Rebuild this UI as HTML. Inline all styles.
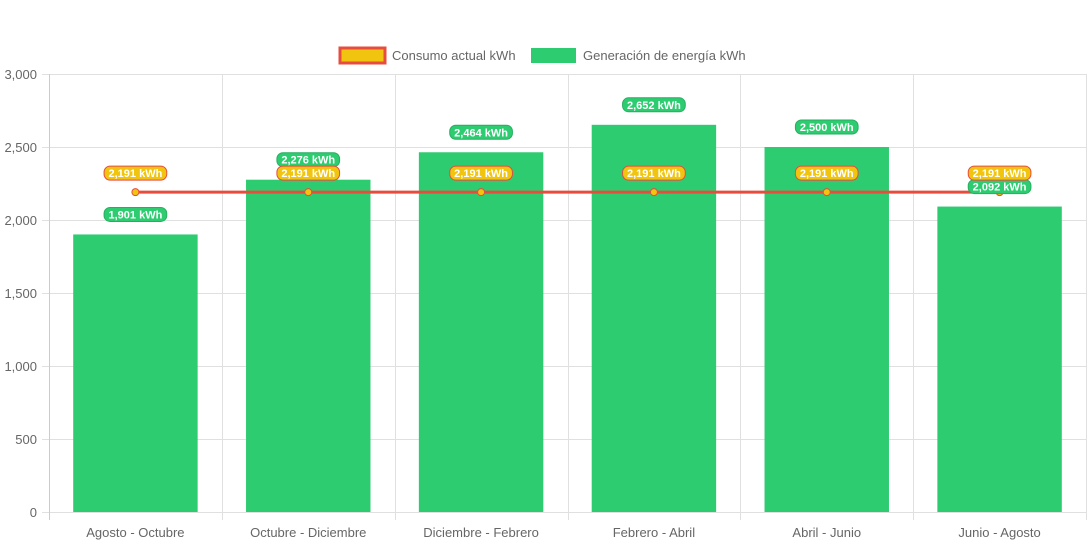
<!DOCTYPE html>
<html><head><meta charset="utf-8"><style>
body{margin:0;background:#fff;}
svg text{font-family:"Liberation Sans",sans-serif;}
</style></head><body>
<svg id="chart" width="1092" height="545">
<g>
 <rect x="340" y="48" width="45" height="15" fill="#f1c40f" stroke="#e74c3c" stroke-width="3"/>
 <text x="392" y="60" font-size="13" fill="#666">Consumo actual kWh</text>
 <rect x="531" y="48" width="45" height="15" fill="#2ecc71"/>
 <text x="583" y="60" font-size="13" fill="#666">Generación de energía kWh</text>
</g>
<g id="grid"></g><g id="bars"></g><g id="line"></g><g id="labels"></g>
</svg>
<script>
const categories=["Agosto - Octubre","Octubre - Diciembre","Diciembre - Febrero","Febrero - Abril","Abril - Junio","Junio - Agosto"];
const generacion=[1901,2276,2464,2652,2500,2092];
const consumo=[2191,2191,2191,2191,2191,2191];
const yTicks=[0,500,1000,1500,2000,2500,3000];
const NS="http://www.w3.org/2000/svg";
const L=49,R=1086,T=74,B=512,yMax=3000;
const cw=(R-L)/categories.length;
const y=v=>B-(v/yMax)*(B-T);
const xc=i=>L+cw*(i+0.5);
function mk(tag,attrs,parent,txt){const e=document.createElementNS(NS,tag);for(const k in attrs)e.setAttribute(k,attrs[k]);if(txt!==undefined)e.textContent=txt;document.getElementById(parent).appendChild(e);return e;}
const fmt=v=>v.toLocaleString("en-US");
yTicks.forEach(t=>{
 let g=mk("line",{x1:42,x2:R,y1:y(t)+0.5,y2:y(t)+0.5,stroke:"#e0e0e0"},"grid");
 
 
 let tx=mk("text",{x:37,y:y(t)+5,"text-anchor":"end","font-size":13,fill:"#666"},"grid",fmt(t));
 
 
});
for(let i=0;i<=categories.length;i++){
 let x=Math.round(L+cw*i)+0.5;
 let g=mk("line",{x1:x,x2:x,y1:T,y2:520,stroke:i==0?"#ccc":"#e0e0e0"},"grid");
 
 
}
categories.forEach((c,i)=>{
 let tx=mk("text",{x:xc(i),y:537,"text-anchor":"middle","font-size":13,fill:"#666"},"grid",c);
 
 
});
const bw=cw*0.72;
function pill(cx,cy,text,fill,stroke){
 const w=text.length*6.3+6;
 let r=mk("rect",{x:cx-w/2,y:cy-7,width:w,height:14,rx:6,fill:fill,stroke:stroke,"stroke-width":1},"labels");
 
 
 let t=mk("text",{x:cx,y:cy+4,"text-anchor":"middle","font-size":11,"font-weight":"bold",fill:"#fff"},"labels",text);
 
 
}
generacion.forEach((v,i)=>{
 let b=mk("rect",{x:xc(i)-bw/2,y:y(v),width:bw,height:B-y(v),fill:"#2ecc71"},"bars");
 
 
 pill(xc(i),y(v)-20,fmt(v)+" kWh","#2ecc71","#27ae60");
});
let pts=consumo.map((v,i)=>xc(i)+","+y(v)).join(" ");
let pl=mk("polyline",{points:pts,fill:"none",stroke:"#e74c3c","stroke-width":3},"line");


consumo.forEach((v,i)=>{
 let c=mk("circle",{cx:xc(i),cy:y(v),r:3.5,fill:"#f1c40f",stroke:"#e74c3c","stroke-width":1},"line");
 
 
 pill(xc(i),y(v)-19,fmt(v)+" kWh","#f1c40f","#e74c3c");
});
</script>
</body></html>
